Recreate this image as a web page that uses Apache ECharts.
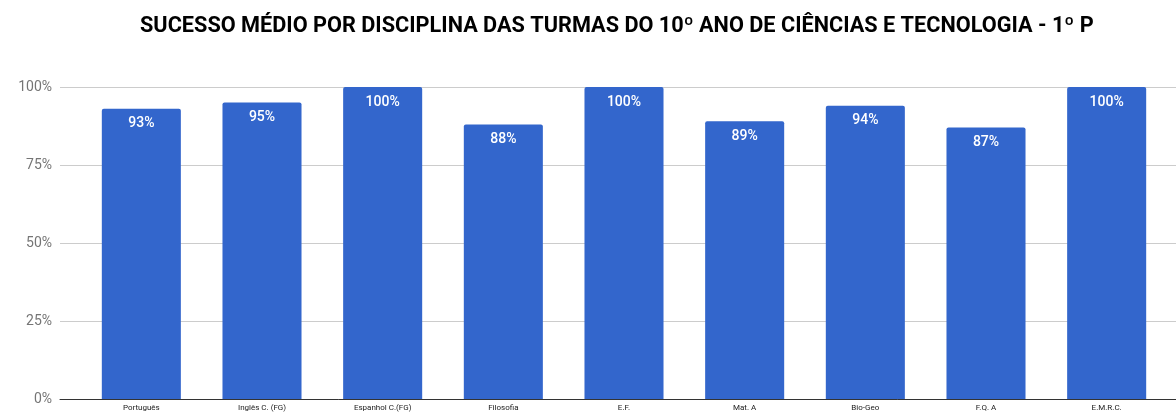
<!DOCTYPE html>
<html>
<head>
<meta charset="utf-8">
<script src="https://cdn.jsdelivr.net/npm/echarts@6/dist/echarts.min.js"></script>
<style>
  html, body { margin: 0; padding: 0; background: #fff; }
  #main { width: 1176px; height: 414px; }
</style>
</head>
<body>
<div id="main"></div>
<script>
var titulo = 'SUCESSO MÉDIO POR DISCIPLINA DAS TURMAS DO 10º ANO DE CIÊNCIAS E TECNOLOGIA - 1º P';
var disciplinas = ['Português', 'Inglês C. (FG)', 'Espanhol C.(FG)', 'Filosofia', 'E.F.', 'Mat. A', 'Bio-Geo', 'F.Q. A', 'E.M.R.C.'];
var sucesso = [93, 95, 100, 88, 100, 89, 94, 87, 100];
var ticksY = [0, 25, 50, 75, 100];

var myChart = echarts.init(document.getElementById('main'));
var option = {
  animation: false,
  title: {
    text: titulo,
    left: 135,
    top: 11,
    textStyle: { fontFamily: 'Roboto', fontSize: 21.7, fontWeight: 'bold', color: '#000' }
  },
  grid: [
    // grelha larga: linhas e rótulos do eixo y
    { left: 60, right: 0, top: 87, bottom: 15 },
    // grelha das barras
    { left: 81, right: 9, top: 87, bottom: 15 }
  ],
  xAxis: [
    {
      gridIndex: 0, type: 'value', min: 0, max: 1,
      axisLine: { show: true, lineStyle: { color: '#333', width: 1 } },
      axisTick: { show: false }, axisLabel: { show: false }, splitLine: { show: false }
    },
    {
      gridIndex: 1, type: 'category', data: disciplinas,
      axisLine: { show: false }, axisTick: { show: false },
      axisLabel: { fontFamily: 'Roboto', fontSize: 8, color: '#222', margin: 5, interval: 0 }
    }
  ],
  yAxis: [
    {
      gridIndex: 0, type: 'value', min: 0, max: 100, interval: 25,
      axisLine: { show: false }, axisTick: { show: false },
      axisLabel: {
        fontFamily: 'Roboto', fontSize: 14, color: '#757575', margin: 8,
        formatter: function (v) { return ticksY.indexOf(v) >= 0 ? v + '%' : ''; }
      },
      splitLine: { lineStyle: { color: '#cccccc', width: 1 } }
    },
    {
      gridIndex: 1, type: 'value', min: 0, max: 100, interval: 25,
      axisLine: { show: false }, axisTick: { show: false },
      axisLabel: { show: false }, splitLine: { show: false }
    }
  ],
  series: [{
    type: 'bar',
    xAxisIndex: 1,
    yAxisIndex: 1,
    data: sucesso,
    barCategoryGap: '34.5%',
    itemStyle: { color: '#3366cc', borderRadius: [2, 2, 0, 0] },
    label: {
      show: true,
      position: 'insideTop',
      distance: 8,
      formatter: '{c}%',
      fontFamily: 'Roboto',
      fontSize: 14,
      fontWeight: 500,
      color: '#ffffff'
    }
  }]
};
myChart.setOption(option);
</script>
</body>
</html>
